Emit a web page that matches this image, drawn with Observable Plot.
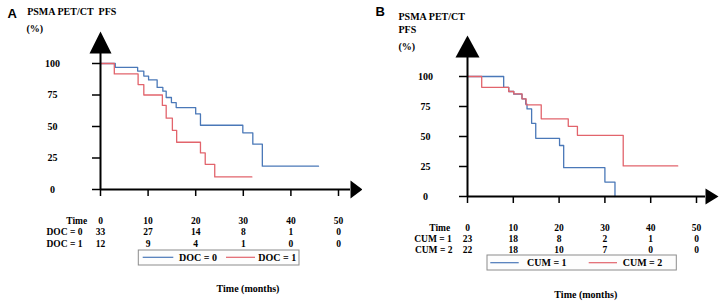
<!DOCTYPE html>
<html><head><meta charset="utf-8">
<script src="https://cdn.jsdelivr.net/npm/d3@7"></script>
<script src="https://cdn.jsdelivr.net/npm/@observablehq/plot@0.6"></script>
<style>
html,body{margin:0;padding:0;background:#fff;}
#wrap{display:flex;width:725px;height:305px;overflow:hidden;}
#wrap svg{display:block;flex:none;}
</style></head><body><div id="wrap"></div>
<script>
// ---------- shared ----------
const timeTicks = [0, 10, 20, 30, 40, 50];
const pctTicks = [0, 25, 50, 75, 100];
const groupColors = ["#4a78b8", "#e2646c"];

// ---------- Panel A : DOC ----------
const docGroups = ["DOC = 0", "DOC = 1"];
const doc0Time = [0, 3.1, 7.8, 9.1, 10.1, 11.9, 13.1, 13.8, 14.9, 15.9, 20, 21, 29.9, 32, 34, 45.8];
const doc0Surv = [100, 97, 94, 90, 87, 81, 78, 73, 69, 65, 60, 51, 45, 36, 18.5, 18.5];
const doc1Time = [0, 2.9, 7.9, 9.1, 13, 13.8, 15.1, 16, 21, 22, 24, 31.8];
const doc1Surv = [100, 91.7, 83.3, 75, 66.7, 56.6, 47, 37.5, 29, 20, 10, 10];
const docRowLabels = ["Time", "DOC = 0", "DOC = 1"];
const docAtRisk0 = [33, 27, 14, 8, 1, 0];
const docAtRisk1 = [12, 9, 4, 1, 0, 0];

// ---------- Panel B : CUM ----------
const cumGroups = ["CUM = 1", "CUM = 2"];
const cum1Time = [0, 7.9, 9.0, 10.1, 11.9, 12.7, 13.0, 14, 14.9, 20.1, 21, 30, 32.2];
const cum1Surv = [100, 91, 87.5, 85.3, 81.4, 77, 73, 61, 48.5, 42.5, 24, 12, 0];
const cum2Time = [0, 3.1, 9.0, 10.1, 11.9, 12.8, 16.1, 22, 24, 34, 45.9];
const cum2Surv = [100, 91, 87.5, 85.5, 81.4, 76.4, 64.7, 58.5, 51, 25.5, 25.5];
const cumRowLabels = ["Time", "CUM = 1", "CUM = 2"];
const cumAtRisk1 = [23, 18, 8, 2, 1, 0];
const cumAtRisk2 = [22, 18, 10, 7, 0, 0];

const titleA = ["PSMA PET/CT\u00a0 PFS", "(%)"];
const titleB = ["PSMA PET/CT", "PFS", "(%)"];
const xLabel = "Time (months)";

const serif = "'Liberation Serif','Times New Roman',serif";
const sans = "'Liberation Sans',Arial,sans-serif";

function arrowUp(hw, h) {
  return {draw(ctx) { ctx.moveTo(0, -h); ctx.lineTo(hw, 0); ctx.lineTo(-hw, 0); ctx.closePath(); }};
}
function arrowRight(len, hh) {
  return {draw(ctx) { ctx.moveTo(len, 0); ctx.lineTo(0, -hh); ctx.lineTo(0, hh); ctx.closePath(); }};
}

function panel(c) {
  const series = c.curves.flatMap((cv, gi) => cv.t.map((t, i) => ({t, s: cv.s[i], g: c.groups[gi]})));
  const abs = (txt, px, py, o = {}) => Plot.text([txt], {
    frameAnchor: "top-left", dx: px - c.mL, dy: py - c.mT, text: d => d,
    lineAnchor: "middle", textAnchor: "start", ...o
  });
  const y0 = c.yRange[0];
  const tableFont = 9.5;
  const riskRow = (vals, py) => Plot.text(timeTicks, {
    x: d => d, text: (d, i) => String(vals[i]), frameAnchor: "bottom",
    dy: py - y0, lineAnchor: "middle", textAnchor: "middle", fontSize: tableFont
  });
  const L = c.legend;
  const legendMark = () => {
    const g = d3.create("svg:g");
    g.append("rect").attr("x", L.x).attr("y", L.y).attr("width", L.w).attr("height", L.h)
      .attr("fill", "#fdfdfd").attr("stroke", "#8c8c8c").attr("stroke-width", 1);
    c.groups.forEach((name, i) => {
      const it = L.items[i];
      g.append("line").attr("x1", it.x1).attr("x2", it.x2).attr("y1", L.ly).attr("y2", L.ly)
        .attr("stroke", groupColors[i]).attr("stroke-width", 1.2);
      g.append("text").attr("x", it.tx).attr("y", L.ly).attr("dy", "0.34em")
        .attr("text-anchor", "start")
        .attr("font-family", serif).attr("font-weight", "bold").attr("font-size", 10)
        .attr("fill", "black").text(name);
    });
    return g.node();
  };
  return Plot.plot({
    width: c.W, height: 305,
    marginLeft: c.mL, marginTop: c.mT, marginRight: c.mR, marginBottom: c.mB,
    x: {domain: [0, 50], range: c.xRange},
    y: {domain: [0, 100], range: c.yRange},
    color: {domain: c.groups, range: groupColors},
    style: {fontFamily: serif, fontSize: "10px", fontWeight: "bold", background: "white", color: "black", overflow: "visible"},
    marks: [
      Plot.line(series, {x: "t", y: "s", z: "g", stroke: "g", curve: "step-after", strokeWidth: 1.3}),
      Plot.ruleX([0], {stroke: "black", strokeWidth: 2}),
      Plot.ruleY([0], {stroke: "black", strokeWidth: 2}),
      Plot.dot([0], {frameAnchor: "top-left", symbol: arrowUp(c.upHW, c.upH), r: 5, fill: "black", stroke: "none"}),
      Plot.dot([0], {frameAnchor: "bottom-right", symbol: arrowRight(c.rtL, c.rtHH), r: 5, fill: "black", stroke: "none"}),
      Plot.axisY(pctTicks, {tickSize: 8, tickPadding: c.yPad, textAnchor: "middle", strokeWidth: 1.5, label: null}),
      Plot.axisX(timeTicks, {tickSize: 7, fill: "none", strokeWidth: 1.5, label: null}),
      // title
      abs(c.letter, c.letterPos[0], c.letterPos[1], {fontFamily: sans, fontSize: 13, fontWeight: "bold"}),
      ...c.title.map((t, i) => abs(t, c.titlePos[i][0], c.titlePos[i][1])),
      // risk table
      abs(c.rowLabels[0], c.rowLabelPos[0][0], c.rowLabelPos[0][1], {textAnchor: c.rowLabelAnchor[0], fontSize: tableFont}),
      abs(c.rowLabels[1], c.rowLabelPos[1][0], c.rowLabelPos[1][1], {textAnchor: c.rowLabelAnchor[1], fontSize: tableFont}),
      abs(c.rowLabels[2], c.rowLabelPos[2][0], c.rowLabelPos[2][1], {textAnchor: c.rowLabelAnchor[2], fontSize: tableFont}),
      riskRow(timeTicks, c.rowY[0]),
      riskRow(c.atRisk[0], c.rowY[1]),
      riskRow(c.atRisk[1], c.rowY[2]),
      legendMark,
      abs(xLabel, c.xLabelPos[0], c.xLabelPos[1], {textAnchor: "middle"})
    ]
  });
}

const wrap = document.getElementById("wrap");
wrap.append(panel({
  W: 362, mL: 100, mT: 53, mR: 12, mB: 116, xRange: [100, 338], yRange: [189, 63],
  groups: docGroups,
  curves: [{t: doc0Time, s: doc0Surv}, {t: doc1Time, s: doc1Surv}],
  upHW: 11, upH: 22, rtL: 12, rtHH: 9, yPad: 40,
  letter: "A", letterPos: [7, 13],
  title: titleA, titlePos: [[26.7, 11], [26, 28.7]],
  rowLabels: docRowLabels, rowLabelPos: [[86.7, 220.6], [46, 231.3], [46, 243.3]], rowLabelAnchor: ["end", "start", "start"],
  rowY: [220.6, 231.3, 243.3], atRisk: [docAtRisk0, docAtRisk1],
  legend: {x: 138.3, y: 250, w: 160.7, h: 15, ly: 257.3, items: [{x1: 142.7, x2: 173.3, tx: 179}, {x1: 226, x2: 255, tx: 258.3}]},
  xLabelPos: [247.5, 288.3]
}));
wrap.append(panel({
  W: 363, mL: 105, mT: 57, mR: 20, mB: 109, xRange: [105, 334], yRange: [196, 76],
  groups: cumGroups,
  curves: [{t: cum1Time, s: cum1Surv}, {t: cum2Time, s: cum2Surv}],
  upHW: 12, upH: 22, rtL: 13, rtHH: 8, yPad: 34,
  letter: "B", letterPos: [13, 11],
  title: titleB, titlePos: [[36, 16.7], [36, 29], [36, 46.7]],
  rowLabels: cumRowLabels, rowLabelPos: [[87.7, 227.8], [89.3, 238.7], [90, 249.5]], rowLabelAnchor: ["end", "end", "end"],
  rowY: [227.8, 238.7, 249.5], atRisk: [cumAtRisk1, cumAtRisk2],
  legend: {x: 125, y: 255, w: 189.3, h: 15, ly: 262.7, items: [{x1: 128.3, x2: 156.7, tx: 165}, {x1: 226.7, x2: 255, tx: 260.7}]},
  xLabelPos: [223.3, 294]
}));
</script></body></html>
